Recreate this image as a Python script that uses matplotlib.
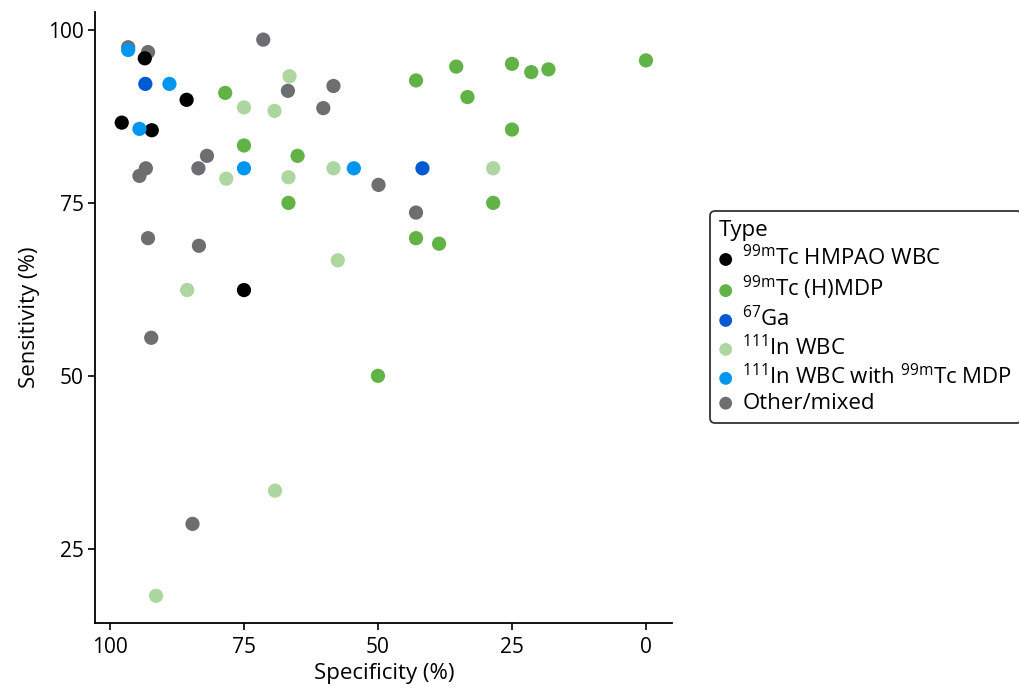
import matplotlib
matplotlib.use("Agg")
import matplotlib.pyplot as plt

# ---------------------------------------------------------------------------
# Data: (specificity %, sensitivity %) per study, grouped by tracer type
# ---------------------------------------------------------------------------

types = [
    r"$^{\mathregular{99m}}$Tc HMPAO WBC",
    r"$^{\mathregular{99m}}$Tc (H)MDP",
    r"$^{\mathregular{67}}$Ga",
    r"$^{\mathregular{111}}$In WBC",
    r"$^{\mathregular{111}}$In WBC with $^{\mathregular{99m}}$Tc MDP",
    "Other/mixed",
]

hmpao_spec = [93.5, 85.7, 97.8, 92.2, 75.0]
hmpao_sens = [95.9, 89.9, 86.6, 85.5, 62.4]

mdp_spec = [78.5, 75.0, 65.0, 66.7, 42.9, 35.4, 25.0, 21.4, 18.2, 0.0,
            33.3, 25.0, 28.5, 42.9, 38.6, 50.0]
mdp_sens = [90.9, 83.3, 81.8, 75.0, 92.7, 94.7, 95.1, 93.9, 94.3, 95.6,
            90.3, 85.6, 75.0, 69.9, 69.1, 50.0]

ga_spec = [93.4, 41.7]
ga_sens = [92.2, 80.0]

inwbc_spec = [75.0, 69.3, 66.5, 78.3, 66.7, 58.3, 28.5, 57.5, 85.6, 69.2, 91.4]
inwbc_sens = [88.8, 88.3, 93.3, 78.5, 78.7, 80.0, 80.0, 66.7, 62.4, 33.4, 18.2]

inmdp_spec = [96.6, 88.9, 94.5, 75.0, 54.5]
inmdp_sens = [97.1, 92.2, 85.7, 80.0, 80.0]

other_spec = [96.6, 92.9, 71.4, 66.8, 58.3, 60.2, 81.9, 83.5, 93.3, 94.5,
              49.9, 42.9, 92.9, 83.4, 92.3, 84.6]
other_sens = [97.5, 96.8, 98.6, 91.2, 91.9, 88.7, 81.8, 80.0, 80.0, 78.9,
              77.6, 73.6, 69.9, 68.8, 55.5, 28.6]

xticks = [100, 75, 50, 25, 0]
yticks = [25, 50, 75, 100]

# ---------------------------------------------------------------------------
# Style
# ---------------------------------------------------------------------------

FONT = "Open Sans"
plt.rcParams.update({
    "font.family": FONT,
    "mathtext.fontset": "custom",
    "mathtext.rm": FONT,
    "mathtext.it": FONT,
    "mathtext.bf": FONT,
})

colors = ["#000000", "#62b346", "#005ad2", "#aed6a0", "#0096f0", "#6d6e70"]

fig = plt.figure(figsize=(10.19, 6.91), dpi=100)
ax = fig.add_axes([0.0937, 0.0977, 0.5660, 0.8850])

groups = [
    (hmpao_spec, hmpao_sens),
    (mdp_spec, mdp_sens),
    (ga_spec, ga_sens),
    (inwbc_spec, inwbc_sens),
    (inmdp_spec, inmdp_sens),
    (other_spec, other_sens),
]

handles = []
for (xs, ys), col, lab in zip(groups, colors, types):
    z = 2 if lab == "Other/mixed" else 3
    h = ax.scatter(xs, ys, s=105, color=col, edgecolors="none",
                   label=lab, zorder=z)
    handles.append(h)

ax.set_xlim(102.7, -4.9)
ax.set_ylim(14.2, 102.6)
ax.set_xticks(xticks)
ax.set_yticks(yticks)
ax.tick_params(labelsize=15, width=1.2, length=5, color="black")
ax.tick_params(axis="x", pad=5)
for side in ["top", "right"]:
    ax.spines[side].set_visible(False)
for side in ["left", "bottom"]:
    ax.spines[side].set_linewidth(1.3)

ax.set_xlabel("Specificity (%)", fontsize=16, labelpad=3)
ax.set_ylabel("Sensitivity (%)", fontsize=16, labelpad=6)

leg = fig.legend(handles=handles, title="Type", loc="center left",
                 bbox_to_anchor=(0.686, 0.541), fontsize=16,
                 title_fontsize=16, frameon=True, fancybox=True,
                 edgecolor="black", markerscale=0.9, handlelength=0.6,
                 handletextpad=0.45, labelspacing=0.17, borderpad=0.4,
                 alignment="left")
leg.get_frame().set_linewidth(1.3)

plt.savefig("out.png", dpi=100)
